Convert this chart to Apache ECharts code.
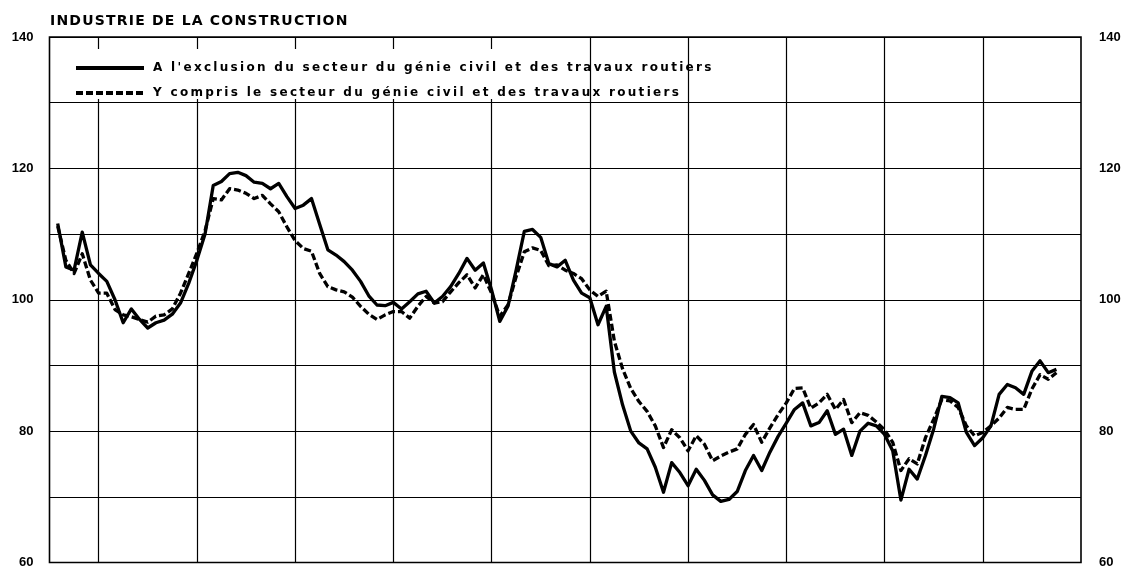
<!DOCTYPE html>
<html>
<head>
<meta charset="utf-8">
<script src="https://cdn.jsdelivr.net/npm/echarts@6/dist/echarts.min.js"></script>
<style>
html,body{margin:0;padding:0;background:#fff;}
#chart{width:1126px;height:569px;}
</style>
</head>
<body>
<div id="chart"></div>
<script>
// ---- data ----
const titleText = "INDUSTRIE DE LA CONSTRUCTION";
const seriesNames = [
  "A l'exclusion du secteur du génie civil et des travaux routiers",
  "Y compris le secteur du génie civil et des travaux routiers"
];
const firstMonth = 7;
const excluding = [
  111.6, 105.0, 104.5, 110.3, 105.3, 104.0, 102.8, 100.0, 96.5, 98.6,
  97.0, 95.7, 96.5, 96.9, 97.8, 99.5, 102.5, 106.0, 110.0, 117.4,
  118.0, 119.2, 119.4, 118.9, 117.9, 117.7, 116.9, 117.7, 115.7, 113.9,
  114.4, 115.4, 111.5, 107.6, 106.8, 105.8, 104.5, 102.8, 100.6, 99.2,
  99.1, 99.6, 98.6, 99.7, 100.9, 101.3, 99.5, 100.5, 102.0, 104.0,
  106.3, 104.5, 105.6, 101.5, 96.7, 99.0, 104.5, 110.4, 110.7, 109.5,
  105.5, 105.0, 106.0, 103.0, 101.0, 100.3, 96.2, 99.0, 89.0, 84.0,
  80.0, 78.2, 77.3, 74.5, 70.7, 75.2, 73.7, 71.7, 74.2, 72.5,
  70.3, 69.3, 69.6, 70.8, 74.0, 76.3, 74.0, 76.8, 79.2, 81.2,
  83.3, 84.3, 80.8, 81.3, 83.1, 79.5, 80.3, 76.3, 80.0, 81.2,
  80.8, 79.5, 77.0, 69.5, 74.2, 72.7, 76.3, 80.3, 85.3, 85.1,
  84.3, 79.8, 77.8, 79.0, 80.8, 85.6, 87.1, 86.6, 85.6, 89.1,
  90.7, 88.9, 89.4
];
const including = [
  111.2, 106.0, 104.0, 107.0, 103.0, 101.0, 101.0, 98.5, 97.7, 97.4,
  97.0, 96.6, 97.5, 97.7, 98.6, 101.0, 104.0, 107.1, 110.5, 115.4,
  115.2, 116.9, 116.7, 116.2, 115.4, 115.9, 114.6, 113.4, 111.1, 109.0,
  107.8, 107.4, 104.0, 102.0, 101.5, 101.2, 100.4, 99.0, 97.8, 97.0,
  97.7, 98.2, 98.2, 97.2, 99.0, 100.5, 99.5, 99.7, 101.2, 102.6,
  103.8, 101.8, 103.8, 101.0, 97.5, 99.2, 103.5, 107.3, 107.9, 107.5,
  105.2, 105.3, 104.5, 104.0, 103.2, 101.5, 100.5, 101.3, 93.7, 89.5,
  86.5, 84.5, 83.0, 80.8, 77.5, 80.2, 79.0, 77.0, 79.3, 78.0,
  75.5, 76.2, 76.8, 77.3, 79.5, 81.0, 78.3, 80.5, 82.5, 84.3,
  86.5, 86.6, 83.5, 84.3, 85.6, 83.3, 84.8, 81.3, 82.8, 82.4,
  81.4, 80.2, 78.3, 74.0, 75.8, 75.0, 79.0, 81.8, 84.8, 84.6,
  83.6, 80.8, 79.3, 79.8, 80.8, 82.0, 83.6, 83.3, 83.3, 86.4,
  88.6, 87.9, 88.9
];
const yearLines = [12, 24, 36, 48, 60, 72, 84, 96, 108, 120];
const yTickLabels = [60, 80, 100, 120, 140];

// ---- build ----
const toPairs = arr => arr.map((v, i) => [firstMonth + i, v]);

const chart = echarts.init(document.getElementById('chart'), null, {renderer: 'canvas'});

// letter-spaced lettering layers (legend on zlevel 1, title on zlevel 2)
try {
  const painter = chart.getZr().painter;
  const l1 = painter.getLayer(1);
  if (l1 && l1.ctx) l1.ctx.letterSpacing = '2.3px';
  const l2 = painter.getLayer(2);
  if (l2 && l2.ctx) l2.ctx.letterSpacing = '1.2px';
} catch (e) {}

const labelFmt = v => (yTickLabels.indexOf(v) >= 0 ? String(v) : '');
const lineW = 3.3;
const dashPattern = [7, 3];

const option = {
  animation: false,
  backgroundColor: '#fff',
  title: {
    text: titleText,
    left: 45,
    top: 9,
    zlevel: 2,
    textStyle: {fontFamily: 'DejaVu Sans', fontSize: 14, fontWeight: 'bold', color: '#000'}
  },
  legend: {
    zlevel: 1,
    orient: 'vertical',
    left: 64,
    top: 49,
    padding: [13, 14, 0, 10],
    backgroundColor: '#fff',
    itemWidth: 68,
    itemHeight: 14,
    itemGap: 13,
    selectedMode: false,
    textStyle: {fontFamily: 'DejaVu Sans', fontSize: 12, fontWeight: 'bold', color: '#000', padding: [0, 0, 0, 4]},
    data: [
      {name: seriesNames[0], itemStyle: {opacity: 0}, lineStyle: {width: 4, type: 'solid', color: '#000'}},
      {name: seriesNames[1], itemStyle: {opacity: 0}, lineStyle: {width: 4, type: dashPattern, color: '#000'}}
    ]
  },
  grid: {
    left: 49.5, right: 45, top: 37, bottom: 6,
    show: true, borderColor: '#000', borderWidth: 1.6, backgroundColor: 'transparent'
  },
  xAxis: {
    type: 'value', min: 6, max: 132,
    axisLine: {show: false}, axisTick: {show: false}, axisLabel: {show: false},
    splitLine: {show: false}
  },
  yAxis: [
    {
      type: 'value', min: 60, max: 140, interval: 10, position: 'left',
      axisLine: {show: false}, axisTick: {show: false},
      axisLabel: {formatter: labelFmt, margin: 16, color: '#000', fontFamily: 'Liberation Sans', fontSize: 13, fontWeight: 'bold'},
      splitLine: {show: true, lineStyle: {color: '#000', width: 1.2}}
    },
    {
      type: 'value', min: 60, max: 140, interval: 10, position: 'right',
      axisLine: {show: false}, axisTick: {show: false},
      axisLabel: {formatter: labelFmt, margin: 18, color: '#000', fontFamily: 'Liberation Sans', fontSize: 13, fontWeight: 'bold'},
      splitLine: {show: false}
    }
  ],
  series: [
    {
      name: '__grid', type: 'line', data: [], silent: true, z: 1,
      markLine: {
        silent: true, symbol: ['none', 'none'], animation: false,
        label: {show: false},
        lineStyle: {color: '#000', width: 1.2, type: 'solid'},
        emphasis: {disabled: true},
        data: yearLines.map(m => ({xAxis: m}))
      }
    },
    {
      name: seriesNames[0], type: 'line', z: 10, symbol: 'none', showSymbol: false,
      data: toPairs(excluding),
      lineStyle: {color: '#000', width: lineW, type: 'solid', join: 'round'},
      itemStyle: {color: '#000'}
    },
    {
      name: seriesNames[1], type: 'line', z: 9, symbol: 'none', showSymbol: false,
      data: toPairs(including),
      lineStyle: {color: '#000', width: lineW, type: dashPattern, join: 'round'},
      itemStyle: {color: '#000'}
    }
  ]
};
chart.setOption(option);
</script>
</body>
</html>
